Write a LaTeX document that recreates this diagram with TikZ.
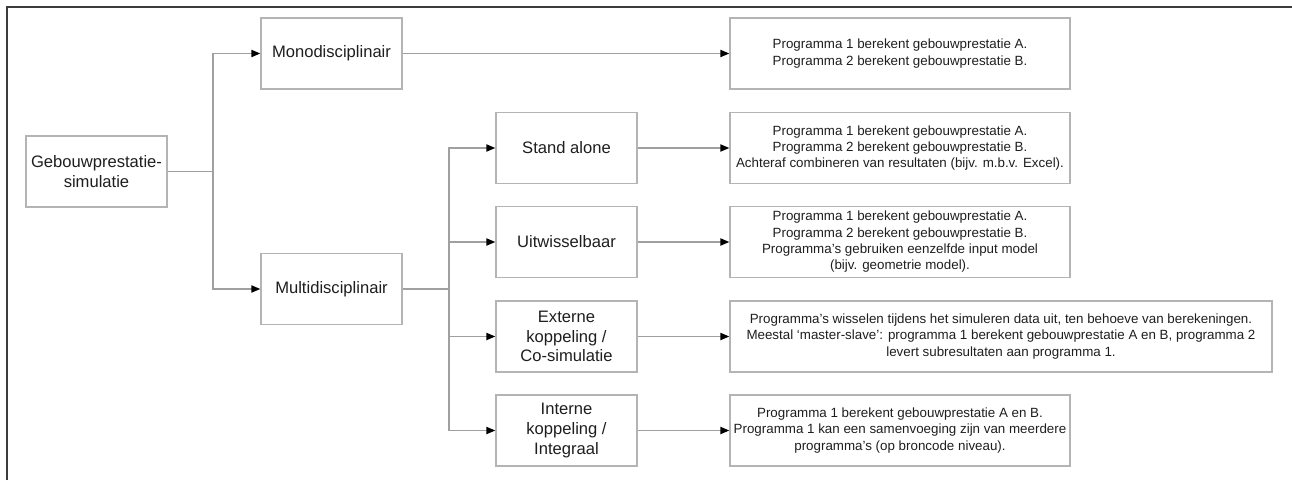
\documentclass[tikz,border=0pt]{standalone}
\usepackage{fontspec}
\setmainfont{Liberation Sans}
\usetikzlibrary{arrows.meta}

\definecolor{boxgray}{HTML}{B4B4B4}
\definecolor{linegray}{HTML}{A0A0A0}
\definecolor{framegray}{HTML}{3C3C3C}
\definecolor{textgray}{HTML}{1E1E1E}

\tikzset{
  kind/.style={draw=boxgray, line width=0.38mm, minimum width=35.25mm,
    minimum height=17.75mm, inner sep=0pt, align=center, text=textgray,
    font=\fontsize{11.8}{14}\selectfont},
  result/.style={kind, minimum width=85mm, font=\fontsize{9.5}{11.6}\selectfont},
  link/.style={draw=linegray, line width=0.3mm},
  arrow/.style={link, -{Triangle[length=2.2mm,width=1.8mm,color=black]}}
}

\begin{document}
\begin{tikzpicture}[x=0.25mm,y=-0.25mm]
  \useasboundingbox (0,0) rectangle (1292,480);
  % frame
  \draw[framegray, line width=0.4mm] (7,480) -- (7,7) -- (1292,7);

  % first level
  \node[kind] (root) at (96.5,171.5) {Gebouwprestatie-\\simulatie};
  \node[kind] (mono) at (331.5,53.5) {Monodisciplinair};
  \node[kind] (multi) at (331.5,289) {Multidisciplinair};

  % second level
  \node[kind] (stand) at (566.5,148) {Stand alone};
  \node[kind] (uitw) at (566.5,242) {Uitwisselbaar};
  \node[kind] (extern) at (566.5,336.5) {Externe\\koppeling /\\Co-simulatie};
  \node[kind] (intern) at (566.5,430.5) {Interne\\koppeling /\\Integraal};

  % descriptions
  \node[result] (monores) at (900,53.5)
    {Programma 1 berekent gebouwprestatie A.\\Programma 2 berekent gebouwprestatie B.};
  \node[result] (standres) at (900,148)
    {Programma 1 berekent gebouwprestatie A.\\Programma 2 berekent gebouwprestatie B.\\Achteraf combineren van resultaten (bijv. m.b.v. Excel).};
  \node[result] (uitwres) at (900,242)
    {Programma 1 berekent gebouwprestatie A.\\Programma 2 berekent gebouwprestatie B.\\Programma's gebruiken eenzelfde input model\\(bijv. geometrie model).};
  \node[result, minimum width=135.5mm] (externres) at (1001,336.5)
    {Programma's wisselen tijdens het simuleren data uit, ten behoeve van berekeningen.\\Meestal `master-slave': programma 1 berekent gebouwprestatie A en B, programma 2\\levert subresultaten aan programma 1.};
  \node[result] (internres) at (900,430.5)
    {Programma 1 berekent gebouwprestatie A en B.\\Programma 1 kan een samenvoeging zijn van meerdere\\programma's (op broncode niveau).};

  % branch points
  \coordinate (splitA) at (213,171.5);
  \coordinate (splitB) at (449,289);

  % connectors
  \draw[link] (root) -- (splitA);
  \draw[arrow] (splitA) |- (mono);
  \draw[arrow] (splitA) |- (multi);
  \draw[link] (multi) -- (splitB);
  \draw[arrow] (splitB) |- (stand);
  \draw[arrow] (splitB) |- (uitw);
  \draw[arrow] (splitB) |- (extern);
  \draw[arrow] (splitB) |- (intern);
  \draw[arrow] (mono) -- (monores);
  \draw[arrow] (stand) -- (standres);
  \draw[arrow] (uitw) -- (uitwres);
  \draw[arrow] (extern) -- (extern -| externres.west);
  \draw[arrow] (intern) -- (internres);
\end{tikzpicture}
\end{document}
